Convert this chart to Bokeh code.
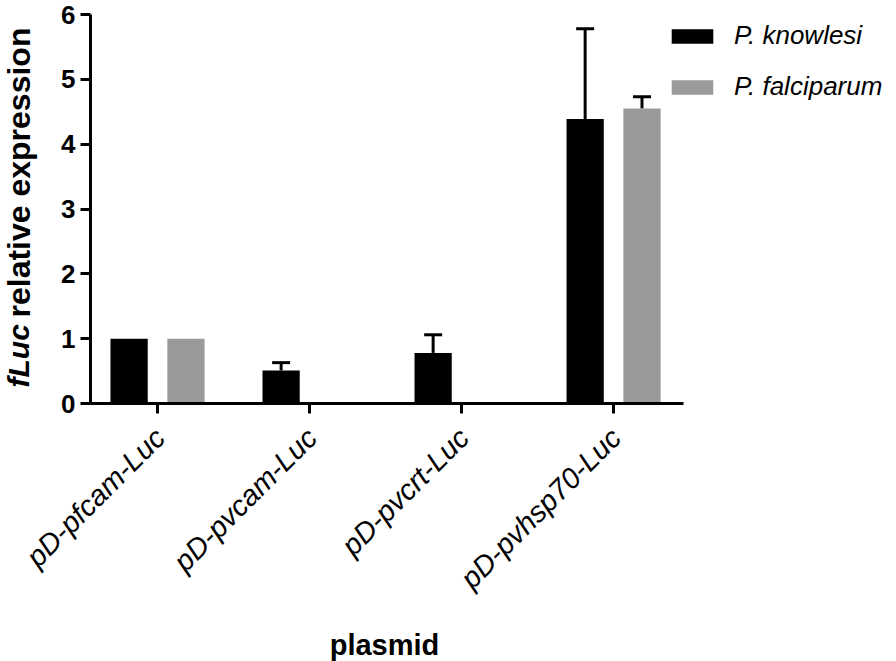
import math
from bokeh.plotting import figure
from bokeh.models import (ColumnDataSource, Whisker, TeeHead, Legend, LegendItem,
                          FixedTicker, LinearAxis)
from bokeh.core.properties import value
from bokeh.embed import file_html
from bokeh.resources import INLINE

# ---- data ----
plasmids = ["pD-pfcam-Luc", "pD-pvcam-Luc", "pD-pvcrt-Luc", "pD-pvhsp70-Luc"]
knowlesi_mean = [1.0, 0.51, 0.78, 4.39]
knowlesi_err = [0.0, 0.12, 0.28, 1.39]
falciparum_mean = [1.0, float("nan"), float("nan"), 4.55]
falciparum_err = [0.0, float("nan"), float("nan"), 0.18]
y_ticks = [0, 1, 2, 3, 4, 5, 6]
series_names = ["P. knowlesi", "P. falciparum"]
series_colors = ["#000000", "#9a9a9a"]
y_title_parts = ["fLuc", "relative expression"]
x_title = "plasmid"

FONT = "Liberation Sans"
W, H = 896, 661            # canvas size
# plotting-area geometry in pixels
AX_L, AX_R, AX_T, AX_B = 90, 683, 14, 403
X0, X1 = -0.441, 3.46      # category-axis extent in data units
Y0, Y1 = 0, 6
sx = (AX_R - AX_L) / (X1 - X0)
sy = (AX_B - AX_T) / (Y1 - Y0)


def dx(px):  # pixel x -> data x
    return X0 + (px - AX_L) / sx


def dy(py):  # pixel y -> data y
    return (AX_B - py) / sy


offset = 0.187
bar_w = 0.245
idx = list(range(len(plasmids)))

p = figure(width=W, height=H, x_range=(dx(0), dx(W)),
           y_range=(dy(H), dy(0)),
           output_backend="svg", toolbar_location=None,
           x_axis_location=None, y_axis_location=None,
           min_border=0, min_border_left=0, min_border_right=0,
           min_border_top=0, min_border_bottom=0)
p.outline_line_color = None
p.xgrid.visible = False
p.ygrid.visible = False

renderers = []
for means, errs, col, sgn in [
        (knowlesi_mean, knowlesi_err, series_colors[0], -1),
        (falciparum_mean, falciparum_err, series_colors[1], 1)]:
    xs = [i + sgn * offset for i in idx]
    src = ColumnDataSource(dict(x=xs, top=means))
    r = p.vbar(x="x", top="top", width=bar_w, bottom=0, source=src,
               fill_color=col, line_color=None)
    renderers.append(r)
    ex, lo, up = [], [], []
    for xx, m, e in zip(xs, means, errs):
        if not math.isnan(e) and e > 0:
            ex.append(xx); lo.append(m); up.append(m + e)
    esrc = ColumnDataSource(dict(x=ex, lower=lo, upper=up))
    w = Whisker(base="x", lower="lower", upper="upper", source=esrc,
                dimension="height", line_color="black", line_width=3,
                upper_head=TeeHead(size=18, line_color="black", line_width=3),
                lower_head=None)
    p.add_layout(w)

yax = LinearAxis(fixed_location=X0, bounds=(Y0, Y1),
                 ticker=FixedTicker(ticks=y_ticks))
xax = LinearAxis(fixed_location=0, bounds=(X0, X1),
                 ticker=FixedTicker(ticks=idx))
for ax in (xax, yax):
    ax.axis_line_width = 3
    ax.axis_line_color = "black"
    ax.major_tick_line_width = 3
    ax.major_tick_line_color = "black"
    ax.major_tick_out = 10
    ax.major_tick_in = 0
    ax.minor_tick_out = 0
    ax.minor_tick_in = 0
    ax.major_label_text_color = "black"
    ax.major_label_text_font = FONT
yax.major_label_text_font_size = "26px"
yax.major_label_text_font_style = "bold"
yax.major_label_standoff = 5
xax.major_label_text_font_size = "0px"
xax.major_label_overrides = {i: "" for i in idx}
p.add_layout(yax, "left")
p.add_layout(xax, "below")

# category tick labels, rotated 45 degrees, ending just right of each tick
p.text(x=[i - 9 / sx for i in idx], y=[dy(421)] * len(idx), text=plasmids,
       angle=math.pi / 4, text_font=value(FONT), text_font_size="29px",
       text_font_style="italic", text_color="black",
       text_align="right", text_baseline="top")

# x-axis title
p.text(x=[dx(384)], y=[dy(644)], text=[x_title], text_font=value(FONT),
       text_font_size="29px", text_font_style="bold", text_color="black",
       text_align="center", text_baseline="alphabetic")

# y-axis title with mixed styles
p.text(x=[dx(18)], y=[dy(387)], text=[y_title_parts[0]], angle=math.pi / 2,
       text_font=value(FONT), text_font_size="30px",
       text_font_style="bold italic", text_color="black",
       text_align="left", text_baseline="alphabetic")
p.text(x=[dx(18)], y=[dy(317)], text=[y_title_parts[1]], angle=math.pi / 2,
       text_font=value(FONT), text_font_size="32px",
       text_font_style="bold", text_color="black",
       text_align="left", text_baseline="alphabetic")

legend = Legend(items=[LegendItem(label=series_names[0], renderers=[renderers[0]]),
                       LegendItem(label=series_names[1], renderers=[renderers[1]])],
                location=(666, 559), orientation="vertical",
                glyph_width=52, glyph_height=18, label_height=28,
                spacing=20, padding=0, margin=0, label_standoff=16,
                label_text_font=FONT, label_text_font_size="26px",
                label_text_font_style="italic", label_text_color="black",
                border_line_color=None, background_fill_alpha=0)
p.add_layout(legend)

open("out.html", "w").write(file_html(p, INLINE))
